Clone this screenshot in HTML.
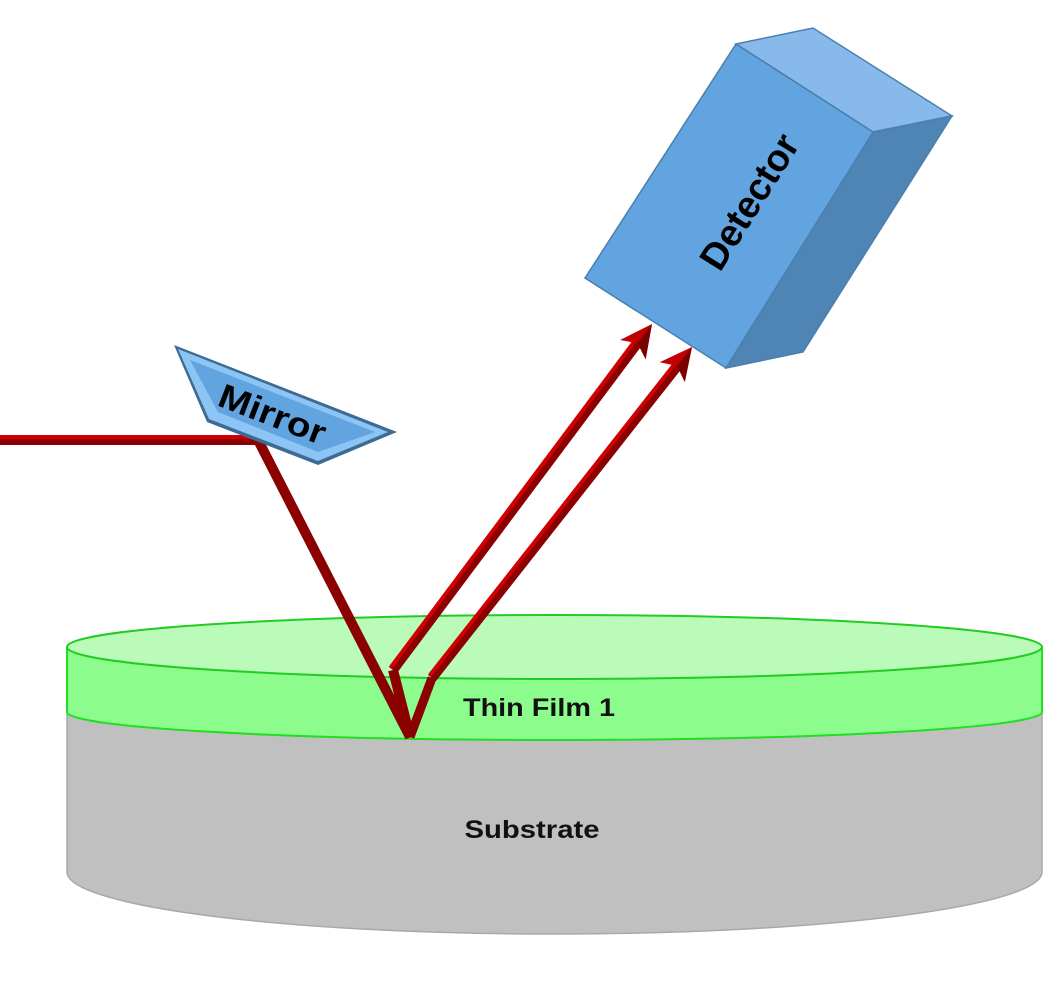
<!DOCTYPE html>
<html><head><style>body{margin:0;background:#fff}svg{display:block}</style></head><body>
<svg width="1060" height="981" viewBox="0 0 1060 981" xmlns="http://www.w3.org/2000/svg">
<!-- substrate -->
<path d="M67,712 L67,872 A487.5,62 0 0 0 1042,872 L1042,712 Z" fill="#c0c0c0" stroke="#a8a8a8" stroke-width="1.5"/>
<!-- thin film side -->
<path d="M67,647 L67,712 A487.5,28 0 0 0 1042,712 L1042,647 Z" fill="#8cfc8c" stroke="#22dd22" stroke-width="2"/>
<ellipse cx="554.5" cy="647" rx="487.5" ry="32" fill="#bafbba" stroke="#22cc22" stroke-width="2"/>
<text x="539" y="716" font-family="Liberation Sans, sans-serif" font-weight="bold" font-size="25" text-anchor="middle" fill="#111" textLength="152" lengthAdjust="spacingAndGlyphs">Thin Film 1</text>
<text x="532" y="838" font-family="Liberation Sans, sans-serif" font-weight="bold" font-size="25" text-anchor="middle" fill="#111" textLength="135" lengthAdjust="spacingAndGlyphs">Substrate</text>

<!-- beams -->
<g stroke-linejoin="miter" fill="none">
<polyline points="0,440 258,440 410,737 393,670" stroke="#8b0000" stroke-width="10"/>
<polyline points="0,437 258,437" stroke="#d00000" stroke-width="4"/>
<polyline points="410,737 432,678" stroke="#8b0000" stroke-width="9"/>
<line x1="393" y1="670" x2="639" y2="341" stroke="#8b0000" stroke-width="10"/>
<line x1="391" y1="667" x2="637" y2="338" stroke="#d00000" stroke-width="4"/>
<line x1="432" y1="678" x2="679" y2="364" stroke="#8b0000" stroke-width="10"/>
<line x1="430" y1="675" x2="677" y2="361" stroke="#d00000" stroke-width="4"/>
</g>
<g transform="translate(652,324) rotate(-53.2)"><polygon points="0,0 -32,-16 -24,0 -32,16" fill="#c00000"/><polygon points="0,0 -24,0 -32,16" fill="#7a0000"/></g>
<g transform="translate(692,347) rotate(-51.8)"><polygon points="0,0 -32,-16 -24,0 -32,16" fill="#c00000"/><polygon points="0,0 -24,0 -32,16" fill="#7a0000"/></g>

<!-- mirror -->
<polygon points="174,345 397,432 318,465 207,422" fill="#3d6b94"/>
<polygon points="178,349 388,432 318,461 209,419" fill="#8cc4f4"/>
<polygon points="190,360 375,432 318,452 218,412" fill="#62a4e0"/>
<text transform="translate(216,405) rotate(21)" font-family="Liberation Sans, sans-serif" font-weight="bold" font-size="34" fill="#000" textLength="112" lengthAdjust="spacingAndGlyphs">Mirror</text>

<!-- detector -->
<polygon points="736,44 813,28 952,116 873,132" fill="#87b9ea" stroke="#4a7fae" stroke-width="1.5"/>
<polygon points="873,132 952,116 803,352 726,368" fill="#4f85b5" stroke="#4a7fae" stroke-width="1.5"/>
<polygon points="736,44 873,132 726,368 585,278" fill="#62a4df" stroke="#4a7fae" stroke-width="1.5"/>
<text transform="translate(720,273) rotate(-58)" font-family="Liberation Sans, sans-serif" font-weight="bold" font-size="38" fill="#000" textLength="152" lengthAdjust="spacingAndGlyphs">Detector</text>
</svg>
</body></html>
